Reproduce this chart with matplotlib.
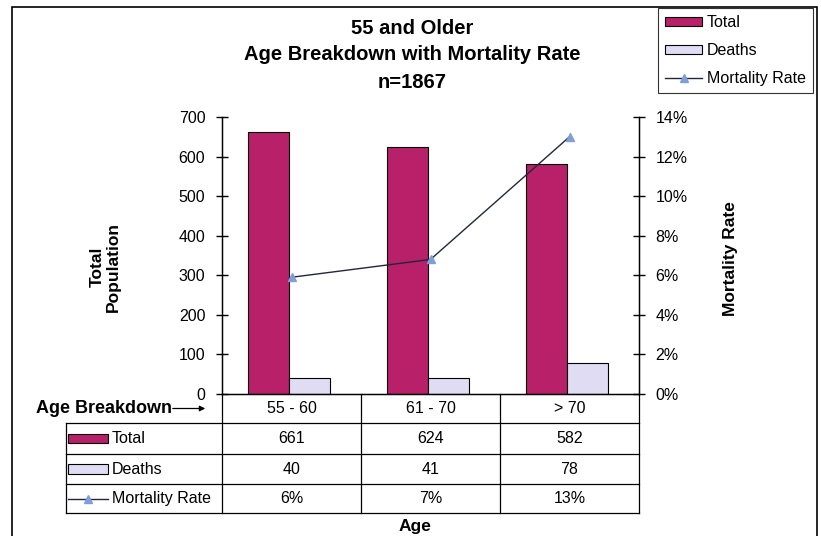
import numpy as np
import matplotlib.pyplot as plt
from matplotlib.patches import Rectangle
from matplotlib.lines import Line2D

plt.rcParams['font.family'] = ['Liberation Sans', 'DejaVu Sans']

categorias = ['55 - 60', '61 - 70', '> 70']
total = [661, 624, 582]
mortes = [40, 41, 78]
taxa = [0.059, 0.068, 0.13]
taxa_txt = ['6%', '7%', '13%']

cor_total = '#b8206a'
cor_mortes = '#e0dcf4'
cor_linha = '#23263a'
cor_marca = '#7f9fd8'

fs = 11.5  # texto normal
fig = plt.figure(figsize=(8.21, 5.36), dpi=100)
ax = fig.add_axes([222/821, 1 - 394/536, 417/821, 277/536])
ax2 = ax.twinx()

x = np.arange(len(categorias))
larg = 0.295
ax.bar(x - larg/2 - 0.018, total, larg, color=cor_total, edgecolor='black', linewidth=0.8, zorder=2)
ax.bar(x + larg/2 - 0.018, mortes, larg, color=cor_mortes, edgecolor='black', linewidth=0.8, zorder=2)
ax2.plot(x, taxa, color=cor_linha, linewidth=1, marker='^', markersize=6,
         markerfacecolor=cor_marca, markeredgecolor=cor_marca, zorder=3)

ax.set_xlim(-0.5, 2.5)
ax.set_ylim(0, 700)
ax.set_yticks(np.arange(0, 701, 100))
ax2.set_ylim(0, 0.14)
ax2.set_yticks(np.arange(0, 0.141, 0.02))
ax2.set_yticklabels([f'{int(round(v*100))}%' for v in np.arange(0, 0.141, 0.02)])
ax.set_xticks([])
for a in (ax, ax2):
    a.spines['top'].set_visible(False)
    a.tick_params(axis='y', direction='inout', length=8, width=1, labelsize=fs, pad=8)
ax.spines['left'].set_linewidth(1)
ax2.spines['right'].set_linewidth(1)
ax.spines['bottom'].set_linewidth(1)

fig.text(105/821, 1 - 267/536, 'Total\nPopulation', rotation=90, ha='center', va='center',
         multialignment='center', fontsize=12.5, fontweight='bold', linespacing=1.1)
fig.text(730/821, 1 - 259/536, 'Mortality Rate', rotation=90, ha='center', va='center',
         fontsize=12.5, fontweight='bold')

# titulo
for yy, txt in [(28, '55 and Older'), (55, 'Age Breakdown with Mortality Rate'), (82, 'n=1867')]:
    fig.text(412/821, 1 - yy/536, txt, ha='center', va='center', fontsize=14.5, fontweight='bold')

# legenda
handles = [Rectangle((0, 0), 1, 1, facecolor=cor_total, edgecolor='black', linewidth=0.8),
           Rectangle((0, 0), 1, 1, facecolor=cor_mortes, edgecolor='black', linewidth=0.8),
           Line2D([], [], color=cor_linha, linewidth=1, marker='^', markersize=6,
                  markerfacecolor=cor_marca, markeredgecolor=cor_marca)]
leg = fig.legend(handles, ['Total', 'Deaths', 'Mortality Rate'], loc='upper right',
                 bbox_to_anchor=(813/821, 1 - 8/536), fontsize=fs, frameon=True, fancybox=False,
                 handlelength=2.3, handleheight=0.55, handletextpad=0.3, borderpad=0.45,
                 labelspacing=0.8, borderaxespad=0)
leg.get_frame().set_edgecolor('black')
leg.get_frame().set_linewidth(0.8)

# tabela de dados abaixo do eixo
px = 417 / 3  # pixels por categoria
tr = ax.get_xaxis_transform()
linhas_y = [0, -0.1047, -0.2166, -0.325, -0.4296]
x_esq = -0.5 - (222 - 66)/px
kw = dict(color='black', linewidth=0.9, transform=tr, clip_on=False)
for yy in linhas_y[1:]:
    ax.plot([x_esq, 2.5], [yy] * 2, **kw)
for xx in [-0.5, 0.5, 1.5, 2.5]:
    ax.plot([xx, xx], [0, linhas_y[-1]], **kw)
ax.plot([x_esq, x_esq], [linhas_y[1], linhas_y[-1]], **kw)

def meio(i):
    return (linhas_y[i] + linhas_y[i + 1]) / 2

for i, c in enumerate(categorias):
    ax.text(i, meio(0), c, transform=tr, ha='center', va='center', fontsize=fs)
    ax.text(i, meio(1), str(total[i]), transform=tr, ha='center', va='center', fontsize=fs)
    ax.text(i, meio(2), str(mortes[i]), transform=tr, ha='center', va='center', fontsize=fs)
    ax.text(i, meio(3), taxa_txt[i], transform=tr, ha='center', va='center', fontsize=fs)

# chaves da legenda dentro da tabela
k0 = x_esq + 2/px
k1 = x_esq + 42/px
for j, cor in [(1, cor_total), (2, cor_mortes)]:
    ax.add_patch(Rectangle((k0, meio(j) - 0.017), k1 - k0, 0.034, facecolor=cor, edgecolor='black',
                           linewidth=0.8, transform=tr, clip_on=False))
ax.plot([k0, k1], [meio(3)] * 2, color=cor_linha, linewidth=1, transform=tr, clip_on=False)
ax.plot([(k0 + k1) / 2], [meio(3)], marker='^', markersize=6, color=cor_marca, transform=tr,
        clip_on=False)
for j, rot in [(1, 'Total'), (2, 'Deaths'), (3, 'Mortality Rate')]:
    ax.text(k1 + 4/px, meio(j), rot, transform=tr, ha='left', va='center', fontsize=fs)

ax.text(-0.5 - 50/px, meio(0), 'Age Breakdown', transform=tr, ha='right', va='center',
        fontsize=13, fontweight='bold')
ax.annotate('', xy=(-0.5 - 14/px, meio(0)), xytext=(-0.5 - 52/px, meio(0)),
            xycoords=tr, textcoords=tr,
            arrowprops=dict(arrowstyle='-|>', color='black', linewidth=0.9, mutation_scale=8))
fig.text(415/821, 1 - 526/536, 'Age', ha='center', va='center', fontsize=12.5, fontweight='bold')

# moldura
fig.patches.append(Rectangle((12/821, -0.01), 805/821, 1 - 7/536 + 0.01, transform=fig.transFigure,
                             facecolor='none', edgecolor='black', linewidth=1.2))

fig.savefig('out.png', dpi=100)
